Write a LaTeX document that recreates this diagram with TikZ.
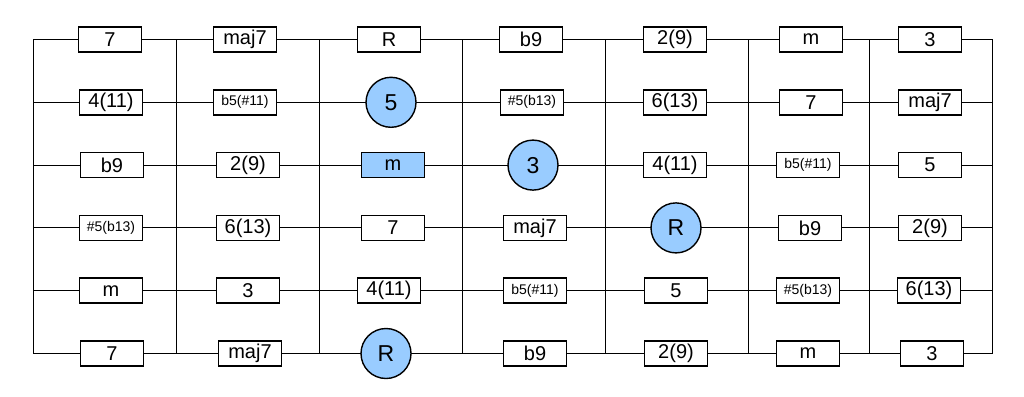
\documentclass[tikz,border=0pt]{standalone}
\usepackage{fontspec}
\setmainfont{Liberation Sans}
\begin{document}
\begin{tikzpicture}[x=1pt,y=-1pt,
  grid/.style={line width=0.9pt,black},
  note/.style={draw=black,line width=1.6pt,fill=white,minimum width=63pt,minimum height=25pt,inner sep=0pt,font=\fontsize{20}{22}\selectfont},
  smallnote/.style={note,font=\fontsize{14}{16}\selectfont},
  hinote/.style={note,fill={rgb,255:red,153;green,204;blue,255}},
  tone/.style={draw=black,line width=1.4pt,circle,fill={rgb,255:red,153;green,204;blue,255},minimum size=50pt,inner sep=0pt,font=\fontsize{23}{25}\selectfont}]
\useasboundingbox (0,0) rectangle (1024,396);
% grid coordinates
\foreach \c/\x in {0/33,1/176,2/319,3/462,4/605,5/748,6/869,7/992}{
  \coordinate (t\c) at (\x,39.5);
  \coordinate (b\c) at (\x,353.5);
  \draw[grid] (t\c) -- (b\c);
}
\foreach \r/\y in {1/39.5,2/102.3,3/165.1,4/227.9,5/290.7,6/353.5}{
  \coordinate (l\r) at (33,\y);
  \coordinate (r\r) at (992,\y);
  \draw[grid] (l\r) -- (r\r);
}
% row 1
\node[note] (a11) at (110,39.5) {7};
\node[note] (a12) at (245,39.5) {maj7};
\node[note] (a13) at (389,39.5) {R};
\node[note] (a14) at (531,39.5) {b9};
\node[note] (a15) at (675,39.5) {2(9)};
\node[note] (a16) at (811,39.5) {m};
\node[note] (a17) at (930,39.5) {3};
% row 2
\node[note] (a21) at (111,102.3) {4(11)};
\node[smallnote] (a22) at (245,102.3) {b5(\#11)};
\node[tone] (a23) at (391,102.3) {5};
\node[smallnote] (a24) at (532,102.3) {\#5(b13)};
\node[note] (a25) at (675,102.3) {6(13)};
\node[note] (a26) at (811,102.3) {7};
\node[note] (a27) at (930,102.3) {maj7};
% row 3
\node[note] (a31) at (112,165.1) {b9};
\node[note] (a32) at (248,165.1) {2(9)};
\node[hinote] (a33) at (393,165.1) {m};
\node[tone] (a34) at (533,165.1) {3};
\node[note] (a35) at (675,165.1) {4(11)};
\node[smallnote] (a36) at (808,165.1) {b5(\#11)};
\node[note] (a37) at (930,165.1) {5};
% row 4
\node[smallnote] (a41) at (111,227.9) {\#5(b13)};
\node[note] (a42) at (248,227.9) {6(13)};
\node[note] (a43) at (393,227.9) {7};
\node[note] (a44) at (535,227.9) {maj7};
\node[tone] (a45) at (676,227.9) {R};
\node[note] (a46) at (810,227.9) {b9};
\node[note] (a47) at (930,227.9) {2(9)};
% row 5
\node[note] (a51) at (111,290.7) {m};
\node[note] (a52) at (248,290.7) {3};
\node[note] (a53) at (389,290.7) {4(11)};
\node[smallnote] (a54) at (535,290.7) {b5(\#11)};
\node[note] (a55) at (676,290.7) {5};
\node[smallnote] (a56) at (808,290.7) {\#5(b13)};
\node[note] (a57) at (929,290.7) {6(13)};
% row 6
\node[note] (a61) at (112,353.5) {7};
\node[note] (a62) at (250,353.5) {maj7};
\node[tone] (a63) at (386,353.5) {R};
\node[note] (a64) at (535,353.5) {b9};
\node[note] (a65) at (676,353.5) {2(9)};
\node[note] (a66) at (808,353.5) {m};
\node[note] (a67) at (932,353.5) {3};
\end{tikzpicture}
\end{document}
